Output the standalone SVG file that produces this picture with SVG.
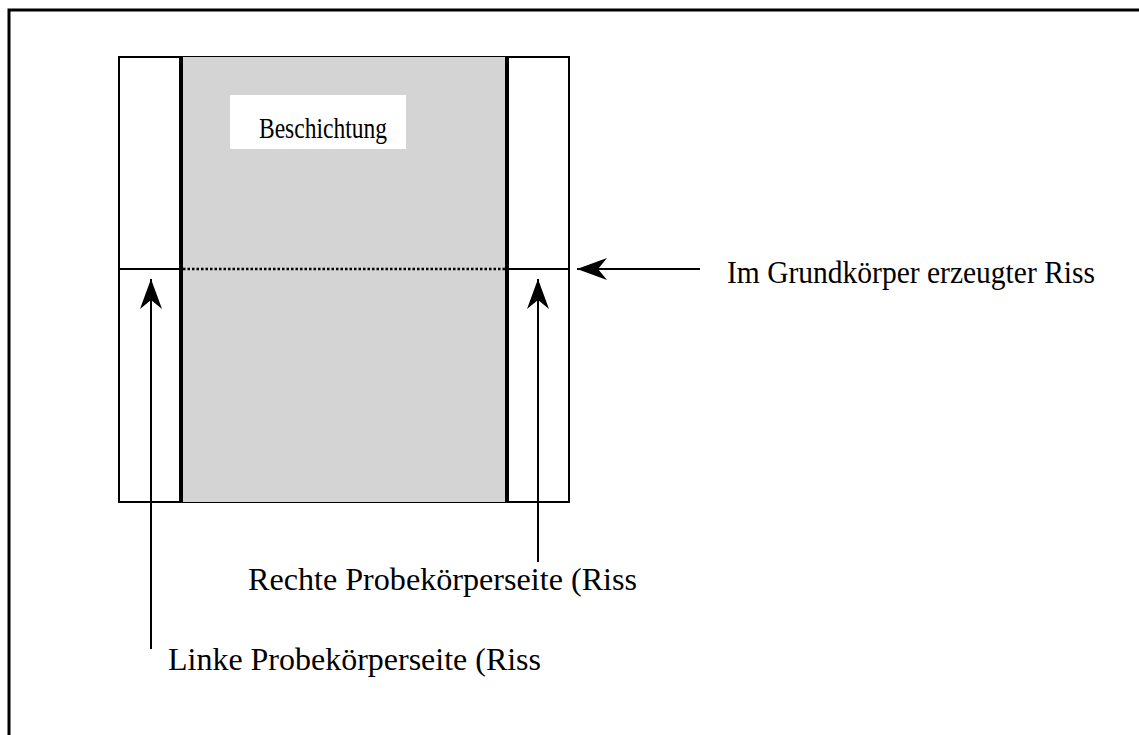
<svg xmlns="http://www.w3.org/2000/svg" width="1139" height="735" viewBox="0 0 1139 735">
<style>
.t{font-family:"Liberation Serif","Times New Roman",serif;fill:#000}
.ln{stroke:#000;stroke-width:2;fill:none}
</style>
<defs>
<marker id="ah" viewBox="0 0 30 22" refX="30" refY="11" markerWidth="30" markerHeight="22" markerUnits="userSpaceOnUse" orient="auto">
<path d="M30,11 L0,0 L9,11 L0,22 Z" fill="#000"/>
</marker>
</defs>
<rect width="1139" height="735" fill="#fff"/>
<rect x="9" y="10" width="1200" height="800" fill="none" stroke="#000" stroke-width="3"/>
<g id="specimen">
<rect x="119" y="57" width="450" height="445" fill="#fff" stroke="#000" stroke-width="2"/>
<rect x="181" y="57" width="326" height="445" fill="#d4d4d4"/>
<line x1="181" y1="56" x2="181" y2="503" stroke="#000" stroke-width="4"/>
<line x1="507" y1="56" x2="507" y2="503" stroke="#000" stroke-width="4"/>
<line class="ln" x1="119" y1="269" x2="181" y2="269"/>
<line class="ln" x1="507" y1="269" x2="569" y2="269"/>
<line x1="183" y1="269" x2="505" y2="269" stroke="#000" stroke-width="2.5" stroke-dasharray="2.5,2"/>
</g>
<g id="label-beschichtung">
<rect x="230" y="95" width="176" height="54" fill="#fff"/>
<text class="t" x="259" y="138" font-size="30" textLength="128" lengthAdjust="spacingAndGlyphs">Beschichtung</text>
</g>
<g id="connectors">
<line class="ln" x1="700" y1="269" x2="577" y2="269" marker-end="url(#ah)"/>
<line class="ln" x1="151" y1="649" x2="151" y2="279" marker-end="url(#ah)"/>
<line class="ln" x1="538" y1="562" x2="538" y2="279" marker-end="url(#ah)"/>
</g>
<g id="label-riss"><text class="t" x="727" y="283" font-size="31" textLength="368" lengthAdjust="spacingAndGlyphs">Im Grundkörper erzeugter Riss</text></g>
<g id="label-rechte"><text class="t" x="248" y="590" font-size="32" textLength="389" lengthAdjust="spacingAndGlyphs">Rechte Probekörperseite (Riss</text></g>
<g id="label-linke"><text class="t" x="168" y="670" font-size="32" textLength="373" lengthAdjust="spacingAndGlyphs">Linke Probekörperseite (Riss</text></g>
</svg>
